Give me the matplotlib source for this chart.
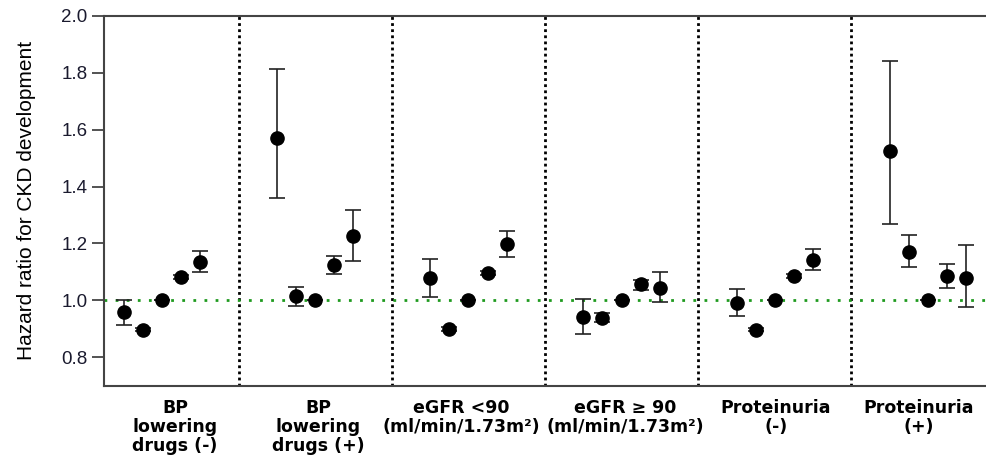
import matplotlib
matplotlib.use('Agg')
import matplotlib.pyplot as plt
import matplotlib.transforms as mtransforms
import numpy as np

plt.rcParams['font.family'] = ['Liberation Sans', 'DejaVu Sans']

# subgroups along the x axis
groups = ['BP\nlowering\ndrugs (-)', 'BP\nlowering\ndrugs (+)',
          'eGFR <90\n(ml/min/1.73m\u00b2)', 'eGFR \u2265 90\n(ml/min/1.73m\u00b2)',
          'Proteinuria\n(-)', 'Proteinuria\n(+)']

# hazard ratios, 5 categories per subgroup (middle one is the reference)
hr = [[0.958, 0.897, 1.0, 1.082, 1.135],
      [1.572, 1.014, 1.0, 1.123, 1.225],
      [1.079, 0.900, 1.0, 1.096, 1.199],
      [0.940, 0.938, 1.0, 1.057, 1.043],
      [0.991, 0.897, 1.0, 1.084, 1.143],
      [1.526, 1.170, 1.0, 1.087, 1.079]]
ci_low = [[0.912, 0.891, 1.0, 1.076, 1.098],
          [1.359, 0.981, 1.0, 1.094, 1.137],
          [1.012, 0.893, 1.0, 1.089, 1.152],
          [0.880, 0.923, 1.0, 1.036, 0.994],
          [0.944, 0.891, 1.0, 1.077, 1.108],
          [1.269, 1.116, 1.0, 1.043, 0.977]]
ci_high = [[1.001, 0.903, 1.0, 1.089, 1.174],
           [1.813, 1.047, 1.0, 1.157, 1.318],
           [1.146, 0.907, 1.0, 1.104, 1.245],
           [1.006, 0.956, 1.0, 1.073, 1.098],
           [1.040, 0.903, 1.0, 1.091, 1.180],
           [1.841, 1.228, 1.0, 1.129, 1.195]]

yticks = [0.8, 1.0, 1.2, 1.4, 1.6, 1.8, 2.0]

hr = np.array(hr)
lo = np.array(ci_low)
hi = np.array(ci_high)
offsets = np.array([-0.25, -0.125, 0, 0.125, 0.25])

fig = plt.figure(figsize=(9.86, 4.65), dpi=100)
ax = fig.add_axes([0.1055, 0.1705, 0.8945, 0.7955])

for i in range(len(groups)):
    x = i + 1 + offsets
    ax.errorbar(x, hr[i], yerr=[hr[i] - lo[i], hi[i] - hr[i]], fmt='o',
                color='black', ecolor='#222222', elinewidth=1.2, capsize=6,
                capthick=1.2, markersize=9.5, zorder=3)

# separators between subgroups
for s in np.arange(1.5, len(groups), 1):
    ax.axvline(s, color='black', lw=2, ls=(0, (1, 1.2)), zorder=1)

ax.axhline(1.0, color='#1f9a1f', lw=2, ls=(0, (1, 3)), zorder=2)

ax.set_xlim(0.622, 6.378)
ax.set_ylim(0.7, 2.0)
ax.set_yticks(yticks)
ax.set_yticklabels(['%.1f' % t for t in yticks], fontsize=13.5, color='#1a1a2e')
ax.tick_params(axis='y', length=9, width=1.3, color='#444444', pad=3)
ax.set_xticks([])

for side in ['left', 'bottom', 'top']:
    ax.spines[side].set_color('#444444')
    ax.spines[side].set_linewidth(1.5)
ax.spines['right'].set_visible(False)

ax.set_ylabel('Hazard ratio for CKD development', fontsize=15, labelpad=18)

trans = mtransforms.blended_transform_factory(ax.transData, ax.transAxes)
label_shift = [0.085, 0.02, -0.045, 0.026, 0.007, -0.06]
for i, g in enumerate(groups):
    ax.text(i + 1 + label_shift[i], -0.035, g, transform=trans, ha='center',
            va='top', fontsize=12.5, fontweight='bold', linespacing=1.1,
            family='DejaVu Sans')

fig.savefig('out.png', dpi=100)
